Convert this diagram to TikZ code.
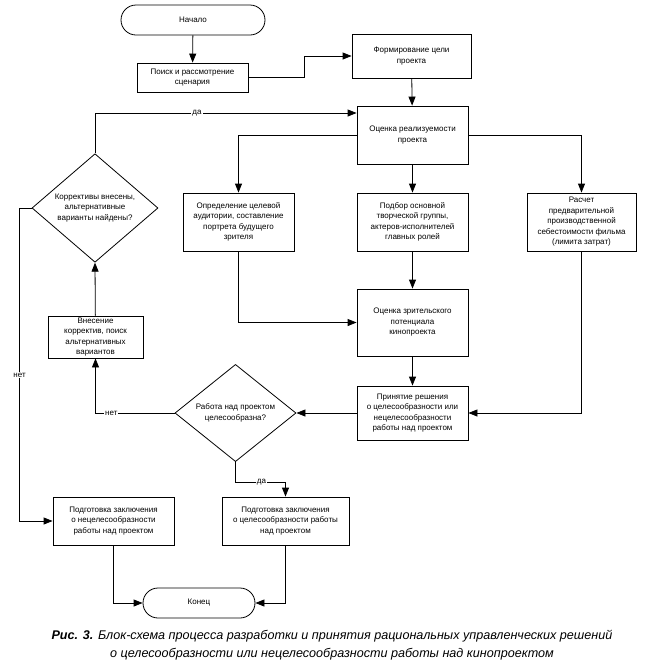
\documentclass[tikz,border=0pt]{standalone}
\usepackage{fontspec}
\setmainfont{Liberation Sans}
\usetikzlibrary{arrows.meta,shapes.geometric,calc}
\begin{document}
\begin{tikzpicture}[x=1pt,y=-1pt,
  line width=0.8pt,
  box/.style={draw,rectangle,align=center,inner sep=0pt,font=\fontsize{8}{10.5}\selectfont},
  term/.style={draw,rectangle,rounded corners=15pt,align=center,inner sep=0pt,font=\fontsize{8}{10.5}\selectfont},
  dia/.style={draw,diamond,align=center,inner sep=0pt,font=\fontsize{8}{10.5}\selectfont},
  arr/.style={-{Triangle[length=9pt,width=7pt]}},
  lbl/.style={fill=white,inner sep=1pt,font=\fontsize{8}{10}\selectfont}]
\useasboundingbox (0,0) rectangle (646,665);
\node[term,minimum width=144pt,minimum height=30pt] (nach) at (193,20) {Начало};
\node[box,minimum width=111pt,minimum height=29pt] (poisk) at (192.5,77.5) {Поиск и рассмотрение\\сценария};
\node[box,minimum width=119pt,minimum height=44pt] (form) at (411.5,56) {Формирование цели\\проекта};
\node[box,minimum width=111pt,minimum height=58pt] (ocen) at (412.5,135) {Оценка реализуемости\\проекта};
\node[box,minimum width=111pt,minimum height=58pt] (opr) at (238.5,222) {Определение целевой\\аудитории, составление\\портрета будущего\\зрителя};
\node[box,minimum width=111pt,minimum height=58pt] (podb) at (412.5,222) {Подбор основной\\творческой группы,\\актеров-исполнителей\\главных ролей};
\node[box,minimum width=109pt,minimum height=58pt] (rasch) at (581.5,222) {Расчет\\предварительной\\производственной\\себестоимости фильма\\(лимита затрат)};
\node[box,minimum width=111pt,minimum height=67pt] (ozr) at (412.5,322.5) {Оценка зрительского\\потенциала\\кинопроекта};
\node[box,minimum width=111pt,minimum height=54pt] (prin) at (412.5,413) {Принятие решения\\о целесообразности или\\нецелесообразности\\работы над проектом};
\node[dia,minimum width=121pt,minimum height=86pt] (rab) at (235.5,413) {Работа над проектом\\целесообразна?};
\node[box,minimum width=95pt,minimum height=42pt] (vnes) at (95.5,337) {Внесение\\корректив, поиск\\альтернативных\\вариантов};
\node[dia,minimum width=126pt,minimum height=103pt] (kor) at (95,208) {Коррективы внесены,\\альтернативные\\варианты найдены?};
\node[box,minimum width=121pt,minimum height=48pt] (podgn) at (113.5,521) {Подготовка заключения\\о нецелесообразности\\работы над проектом};
\node[box,minimum width=127pt,minimum height=48pt] (podgc) at (285.5,521) {Подготовка заключения\\о целесообразности работы\\над проектом};
\node[term,minimum width=112pt,minimum height=30pt] (kon) at (199,603) {Конец};

\draw[arr] (nach) -- (poisk);
\draw[arr] (poisk.east) -- ++(56,0) |- (form.west);
\draw[arr] (form) -- (ocen);
\draw[arr] (kor.north) |- ([yshift=22pt]ocen.west) node[pos=0.695,lbl] (da1) {да};
\draw[arr] (ocen.west) -| (opr.north);
\draw[arr] (ocen) -- (podb);
\draw[arr] (ocen.east) -| (rasch.north);
\draw[arr] (podb) -- (ozr);
\draw[arr] (opr.south) |- (ozr.west);
\draw[arr] (ozr) -- (prin);
\draw[arr] (rasch.south) |- (prin.east);
\draw[arr] (prin.west) -- (rab.east);
\draw[arr] (rab.west) -| (vnes.south) node[pos=0.4,lbl] (net1) {нет};
\draw[arr] (vnes) -- (kor.south);
\draw[arr] (kor.west) -- ++(-12,0) |- (podgn.west) node[pos=0.267,lbl] (net2) {нет};
\draw[arr] (rab.south) -- ++(0,20) -| (podgc.north) node[pos=0.26,lbl] (da2) {да};
\draw[arr] (podgn.south) |- (kon.west);
\draw[arr] (podgc.south) |- (kon.east);

\node[font=\fontsize{12.6}{18}\selectfont\itshape,align=center] (cap) at (332,645) {\textbf{Рис. 3.} Блок-схема процесса разработки и принятия рациональных управленческих решений\\о целесообразности или нецелесообразности работы над кинопроектом};
\end{tikzpicture}
\end{document}
